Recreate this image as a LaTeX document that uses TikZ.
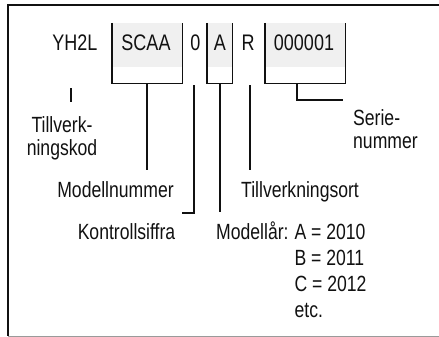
\documentclass[tikz,border=0pt]{standalone}
\usepackage{fontspec}
\setmainfont{Liberation Sans}[FakeStretch=0.8]
\usetikzlibrary{positioning}
\definecolor{ink}{HTML}{111111}
\definecolor{codegray}{HTML}{F0F0F0}
\definecolor{rulegray}{HTML}{9A9A9A}
\newcommand{\codefont}{\fontsize{22.5}{25}\selectfont}
\newcommand{\lblfont}{\fontsize{22}{23}\selectfont}
\newcommand{\yrfont}{\fontsize{22}{26.3}\selectfont}
\tikzset{
  code/.style={anchor=base, inner sep=0pt, font=\codefont, text=ink},
  lbl/.style={anchor=base, inner sep=0pt, font=\lblfont, text=ink},
  codebox/.style={anchor=north west, inner sep=0pt, minimum height=60pt},
  wire/.style={draw=ink, line width=1.8pt},
  frame/.style={draw=ink, line width=2pt}
}
\begin{document}
\begin{tikzpicture}[x=1pt, y=-1pt]
 \useasboundingbox (0,0) rectangle (439,337);
 \draw[frame] (439,5) -- (8,5) -- (8,336);
 \draw[rulegray, line width=1pt] (8,336) -- (439,336);
 % open boxes round the code parts
 \node[codebox, minimum width=70pt] (bmod) at (112,23) {};
 \node[codebox, minimum width=25pt] (byr) at (207,23) {};
 \node[codebox, minimum width=80pt] (bser) at (265,23) {};
 \foreach \b in {bmod,byr,bser}{
   \fill[codegray] (\b.north west) rectangle (\b.east |- 0,67);
   \draw[wire] (\b.north west) |- (\b.south east) -- (\b.north east);
 }
 % the code
 \node[code] (tyh) at (75,51) {YH2L};
 \node[code] (tmod) at (146,51) {SCAA};
 \node[code] (tctl) at (195.5,51) {0};
 \node[code] (tyr) at (220,51) {A};
 \node[code] (tsite) at (248,51) {R};
 \node[code] (tser) at (304,51) {000001};
 % labels
 \node[lbl] (lkod) at (62,132) {\begin{tabular}[t]{@{}c@{}}Tillverk-\\ningskod\end{tabular}};
 \node[lbl] (lmod) at (115.5,197) {Modellnummer};
 \node[lbl] (lctl) at (126.5,239) {Kontrollsiffra};
 \node[lbl, anchor=base west] (lsite) at (241,197) {Tillverkningsort};
 \node[lbl, anchor=base west, font=\yrfont] (lyr) at (216,239) {\begin{tabular}[t]{@{}l@{\hspace{6pt}}l@{}}Modellår: & A = 2010\\ & B = 2011\\ & C = 2012\\ & etc.\end{tabular}};
 \node[lbl, anchor=base west] (lser) at (353,125) {\begin{tabular}[t]{@{}l@{}}Serie-\\nummer\end{tabular}};
 % connectors
 \coordinate (kodtop) at (71,88);
 \coordinate (kodend) at (71,102);
 \coordinate (modend) at (146,170);
 \coordinate (ctltop) at (194,85);
 \coordinate (ctlend) at (182,213);
 \coordinate (yrend) at (220,212);
 \coordinate (sitetop) at (250,85);
 \coordinate (siteend) at (250,170);
 \coordinate (sertop) at (297,83);
 \coordinate (serend) at (343,100);
 \draw[wire] (kodtop) -- (kodend);
 \draw[wire] (bmod.south) -- (bmod.south |- modend);
 \draw[wire] (ctltop) |- (ctlend);
 \draw[wire] (byr.south) -- (byr.south |- yrend);
 \draw[wire] (sitetop) -- (siteend);
 \draw[wire] (sertop) |- (serend);
\end{tikzpicture}
\end{document}
